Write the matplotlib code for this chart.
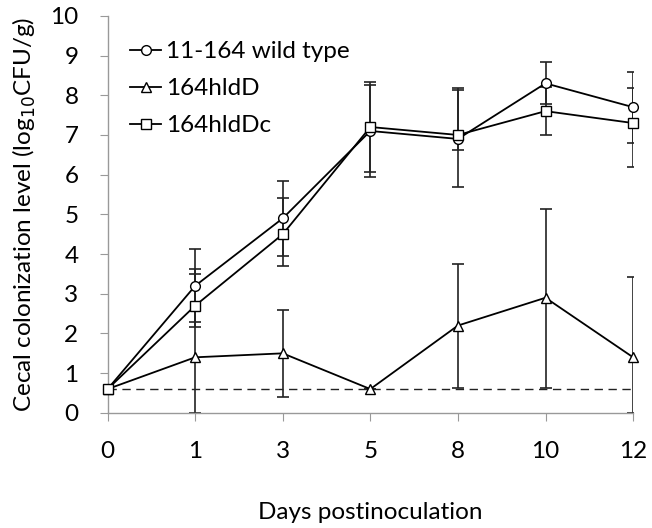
import numpy as np
import matplotlib
matplotlib.use("Agg")
import matplotlib.pyplot as plt

plt.rcParams["font.family"] = ["Lato", "DejaVu Sans"]

days = ["0", "1", "3", "5", "8", "10", "12"]

wild = [0.6, 3.2, 4.9, 7.1, 6.9, 8.3, 7.7]
wild_lo = [0.6, 2.3, 3.95, 5.95, 5.7, 7.77, 6.79]
wild_hi = [0.6, 4.13, 5.83, 8.26, 8.12, 8.83, 8.58]

mut = [0.6, 1.4, 1.5, 0.6, 2.2, 2.9, 1.4]
mut_lo = [0.6, 0.0, 0.4, 0.6, 0.62, 0.62, 0.0]
mut_hi = [0.6, 3.5, 2.6, 0.6, 3.75, 5.14, 3.42]

comp = [0.6, 2.7, 4.5, 7.2, 7.0, 7.6, 7.3]
comp_lo = [0.6, 2.17, 3.69, 6.07, 6.62, 7.0, 6.2]
comp_hi = [0.6, 3.63, 5.42, 8.33, 8.19, 8.2, 8.18]

detection_limit = 0.6

x = np.arange(len(days))
fs = 17.5

fig = plt.figure(figsize=(6.52, 5.28), dpi=100)
ax = fig.add_axes([0.165, 0.218, 0.806, 0.752])

series = [
    ("11-164 wild type", wild, wild_lo, wild_hi, "o"),
    ("164hldD", mut, mut_lo, mut_hi, "^"),
    ("164hldDc", comp, comp_lo, comp_hi, "s"),
]

ax.plot([x[0], x[-1]], [detection_limit, detection_limit], ls=(0, (6, 4)),
        color="#222222", lw=1.0, zorder=1)

for label, y, lo, hi, m in series:
    y = np.array(y)
    yerr = [y - np.array(lo), np.array(hi) - y]
    ax.errorbar(x, y, yerr=yerr, fmt="none", ecolor="#222222", elinewidth=1.2,
                capsize=4, capthick=1.2, zorder=2)
    ax.plot(x, y, color="black", lw=1.3, marker=m, markersize=7 if m != "s" else 6.5,
            markerfacecolor="white", markeredgecolor="black", markeredgewidth=1.0,
            label=label, zorder=3, clip_on=False)

ax.set_xlim(x[0], x[-1])
ax.set_ylim(0, 10)
ax.set_xticks(x)
ax.set_xticklabels(days)
ax.set_yticks(range(0, 11))
ax.tick_params(axis="both", labelsize=fs, color="#999999", length=6, direction="out")
ax.tick_params(axis="x", pad=14)
ax.tick_params(axis="y", pad=15)
for side in ["top", "right"]:
    ax.spines[side].set_visible(False)
for side in ["left", "bottom"]:
    ax.spines[side].set_color("#999999")
    ax.spines[side].set_linewidth(1.0)

ax.set_xlabel("Days postinoculation", fontsize=fs, labelpad=29)
ax.set_ylabel("Cecal colonization level (log$_{10}$CFU/g)", fontsize=fs, labelpad=9)

ax.legend(loc="upper left", bbox_to_anchor=(0.025, 0.96), frameon=False, fontsize=fs,
          handlelength=1.25, handletextpad=0.2, labelspacing=0.65, borderaxespad=0)

fig.savefig("out.png", dpi=100)
